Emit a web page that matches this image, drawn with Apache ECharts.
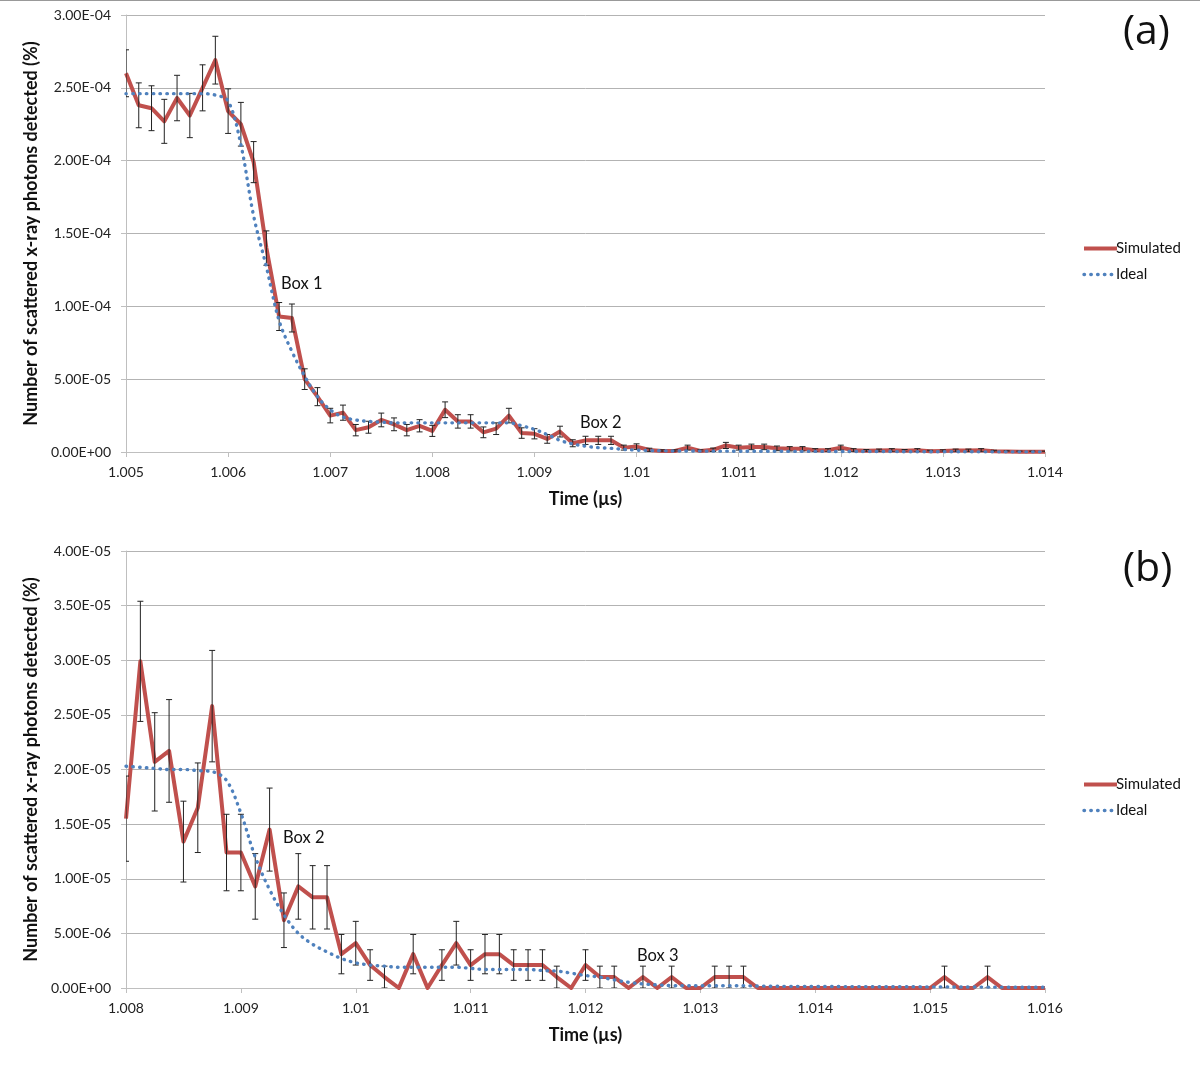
<!DOCTYPE html>
<html>
<head>
<meta charset="utf-8">
<script src="https://cdn.jsdelivr.net/npm/echarts@6/dist/echarts.min.js"></script>
<style>
html,body{margin:0;padding:0;background:#fff;}
#main{width:1200px;height:1066px;}
</style>
</head>
<body>
<div id="main"></div>
<script>
// ---------- Panel (a) ----------
const timeStartA = 1.005, timeStepA = 0.000125, nA = 73;
const simA = [2.60e-4, 2.38e-4, 2.36e-4, 2.27e-4, 2.43e-4, 2.31e-4, 2.50e-4, 2.69e-4, 2.34e-4, 2.25e-4,
  1.99e-4, 1.40e-4, 9.3e-5, 9.2e-5, 5.0e-5, 3.8e-5, 2.5e-5, 2.7e-5, 1.5e-5, 1.7e-5,
  2.2e-5, 1.9e-5, 1.5e-5, 1.8e-5, 1.45e-5, 2.9e-5, 2.1e-5, 2.1e-5, 1.35e-5, 1.6e-5,
  2.5e-5, 1.3e-5, 1.25e-5, 9.0e-6, 1.4e-5, 6.0e-6, 8.0e-6, 8.0e-6, 8.0e-6, 3.0e-6,
  3.7e-6, 1.4e-6, 7e-7, 7e-7, 3.0e-6, 7e-7, 1.5e-6, 4.5e-6, 3.0e-6, 3.5e-6,
  3.5e-6, 2.5e-6, 2.2e-6, 2.2e-6, 1.2e-6, 1.2e-6, 3.0e-6, 1.2e-6, 8e-7, 1.0e-6,
  1.2e-6, 8e-7, 1.2e-6, 5e-7, 7e-7, 1.0e-6, 1.0e-6, 1.2e-6, 5e-7, 3e-7,
  2e-7, 2e-7, 2e-7];
const errA = [1.61e-5, 1.54e-5, 1.54e-5, 1.51e-5, 1.56e-5, 1.52e-5, 1.58e-5, 1.64e-5, 1.53e-5, 1.50e-5,
  1.41e-5, 1.18e-5, 9.6e-6, 9.6e-6, 7.1e-6, 6.2e-6, 5.0e-6, 5.2e-6, 3.9e-6, 4.1e-6,
  4.7e-6, 4.4e-6, 3.9e-6, 4.2e-6, 3.8e-6, 5.4e-6, 4.6e-6, 4.6e-6, 3.7e-6, 4.0e-6,
  5.0e-6, 3.6e-6, 3.5e-6, 3.0e-6, 3.7e-6, 2.4e-6, 2.8e-6, 2.8e-6, 2.8e-6, 1.7e-6,
  1.9e-6, 1.2e-6, 8e-7, 8e-7, 1.7e-6, 8e-7, 1.2e-6, 2.1e-6, 1.7e-6, 1.9e-6,
  1.9e-6, 1.6e-6, 1.5e-6, 1.5e-6, 1.1e-6, 1.1e-6, 1.7e-6, 1.1e-6, 9e-7, 1.0e-6,
  1.1e-6, 9e-7, 1.1e-6, 7e-7, 8e-7, 1.0e-6, 1.0e-6, 1.1e-6, 7e-7, 5e-7,
  4e-7, 4e-7, 4e-7];
const idealA = [2.46e-4, 2.46e-4, 2.46e-4, 2.46e-4, 2.46e-4, 2.46e-4, 2.46e-4, 2.45e-4, 2.41e-4, 2.11e-4,
  1.62e-4, 1.27e-4, 9.0e-5, 6.9e-5, 5.2e-5, 3.8e-5, 2.9e-5, 2.4e-5, 2.2e-5, 2.1e-5,
  2.05e-5, 2.0e-5, 2.0e-5, 2.0e-5, 2.0e-5, 2.0e-5, 2.0e-5, 2.0e-5, 2.0e-5, 2.0e-5,
  2.0e-5, 1.8e-5, 1.55e-5, 1.2e-5, 8.0e-6, 5.5e-6, 4.0e-6, 3.0e-6, 2.5e-6, 1.8e-6,
  1.3e-6, 1.0e-6, 8e-7, 7e-7, 7e-7, 6e-7, 6e-7, 6e-7, 5e-7, 5e-7,
  5e-7, 5e-7, 4e-7, 4e-7, 4e-7, 4e-7, 3e-7, 3e-7, 3e-7, 3e-7,
  3e-7, 2e-7, 2e-7, 2e-7, 2e-7, 2e-7, 2e-7, 1e-7, 1e-7, 1e-7,
  1e-7, 1e-7, 1e-7];
const yTicksA = {min: 0, max: 3.0e-4, interval: 5.0e-5};
const xTicksA = {min: 1.005, max: 1.014, interval: 0.001};

// ---------- Panel (b) ----------
const timeStartB = 1.008, timeStepB = 0.000125, nB = 65;
const simB = [1.55e-5, 2.99e-5, 2.07e-5, 2.17e-5, 1.34e-5, 1.65e-5, 2.58e-5, 1.24e-5, 1.24e-5, 9.3e-6,
  1.45e-5, 6.2e-6, 9.3e-6, 8.3e-6, 8.3e-6, 3.1e-6, 4.1e-6, 2.1e-6, 1.0e-6, 0,
  3.1e-6, 0, 2.1e-6, 4.1e-6, 2.1e-6, 3.1e-6, 3.1e-6, 2.1e-6, 2.1e-6, 2.1e-6,
  1.0e-6, 0, 2.1e-6, 1.0e-6, 1.0e-6, 0, 1.0e-6, 0, 1.0e-6, 0,
  0, 1.0e-6, 1.0e-6, 1.0e-6, 0, 0, 0, 0, 0, 0,
  0, 0, 0, 0, 0, 0, 0, 1.0e-6, 0, 0,
  1.0e-6, 0, 0, 0, 0];
const errB = [3.9e-6, 5.5e-6, 4.5e-6, 4.7e-6, 3.7e-6, 4.1e-6, 5.1e-6, 3.5e-6, 3.5e-6, 3.0e-6,
  3.8e-6, 2.5e-6, 3.0e-6, 2.9e-6, 2.9e-6, 1.8e-6, 2.0e-6, 1.4e-6, 1.0e-6, 0,
  1.8e-6, 0, 1.4e-6, 2.0e-6, 1.4e-6, 1.8e-6, 1.8e-6, 1.4e-6, 1.4e-6, 1.4e-6,
  1.0e-6, 0, 1.4e-6, 1.0e-6, 1.0e-6, 0, 1.0e-6, 0, 1.0e-6, 0,
  0, 1.0e-6, 1.0e-6, 1.0e-6, 0, 0, 0, 0, 0, 0,
  0, 0, 0, 0, 0, 0, 0, 1.0e-6, 0, 0,
  1.0e-6, 0, 0, 0, 0];
const idealB = [2.03e-5, 2.02e-5, 2.01e-5, 2.00e-5, 2.00e-5, 1.99e-5, 1.98e-5, 1.90e-5, 1.60e-5, 1.20e-5,
  9.0e-6, 6.7e-6, 5.0e-6, 4.0e-6, 3.3e-6, 2.7e-6, 2.3e-6, 2.1e-6, 2.0e-6, 1.9e-6,
  1.9e-6, 1.9e-6, 1.9e-6, 1.9e-6, 1.8e-6, 1.7e-6, 1.7e-6, 1.7e-6, 1.7e-6, 1.6e-6,
  1.55e-6, 1.36e-6, 1.14e-6, 1.0e-6, 7.4e-7, 5.2e-7, 3.7e-7, 2.8e-7, 2.2e-7, 2.0e-7,
  2.0e-7, 2.0e-7, 2.0e-7, 2.0e-7, 1.8e-7, 1.6e-7, 1.5e-7, 1.5e-7, 1.4e-7, 1.4e-7,
  1.3e-7, 1.3e-7, 1.2e-7, 1.2e-7, 1.1e-7, 1.1e-7, 1.0e-7, 1.0e-7, 9e-8, 9e-8,
  8e-8, 8e-8, 7e-8, 7e-8, 6e-8];
const yTicksB = {min: 0, max: 4.0e-5, interval: 5.0e-6};
const xTicksB = {min: 1.008, max: 1.016, interval: 0.001};

const seriesNames = ['Simulated', 'Ideal'];
const yTitle = 'Number of scattered x-ray photons detected (%)';
const xTitle = 'Time (\u00b5s)';

// ---------- helpers ----------
function times(start, step, n) { const t = []; for (let i = 0; i < n; i++) t.push(+(start + i * step).toFixed(6)); return t; }
const tA = times(timeStartA, timeStepA, nA);
const tB = times(timeStartB, timeStepB, nB);
function fmtE(v) {
  if (Math.abs(v) < 1e-15) return '0.00E+00';
  const s = v.toExponential(2).split('e');
  let e = s[1]; const sign = e[0] === '-' ? '-' : '+';
  e = e.replace(/[+-]/, ''); if (e.length < 2) e = '0' + e;
  return s[0] + 'E' + sign + e;
}
function fmtX(v) { return String(parseFloat(v.toFixed(3))); }
const FONT = 'Lato, "Open Sans", sans-serif';
const RED = '#C0504D', BLUE = '#4F81BD';
const redLine = {color: RED, width: 4, join: 'round'};
const blueLine = {color: BLUE, width: 3.4, type: [0.5, 6.3], cap: 'round'};

function xAxis(ticks, gi) {
  return {
    type: 'value', gridIndex: gi, min: ticks.min, max: ticks.max, interval: ticks.interval,
    name: xTitle, nameLocation: 'middle', nameGap: 38,
    nameTextStyle: {fontFamily: FONT, fontWeight: 'bold', fontSize: 18, color: '#111'},
    axisLine: {lineStyle: {color: '#bfbfbf', width: 1}},
    axisTick: {show: true, length: 5, lineStyle: {color: '#bfbfbf'}},
    axisLabel: {formatter: fmtX, fontFamily: FONT, fontSize: 14, color: '#222', margin: 13},
    splitLine: {show: false}
  };
}
function yAxis(ticks, gi) {
  return {
    type: 'value', gridIndex: gi, min: ticks.min, max: ticks.max, interval: ticks.interval,
    name: yTitle, nameLocation: 'middle', nameGap: 81, nameRotate: 90,
    nameTextStyle: {fontFamily: FONT, fontWeight: 'bold', fontSize: 18, color: '#111'},
    axisLine: {show: true, lineStyle: {color: '#bfbfbf', width: 1}},
    axisTick: {show: true, length: 5, lineStyle: {color: '#bfbfbf'}},
    axisLabel: {formatter: fmtE, fontFamily: FONT, fontSize: 14, color: '#222', margin: 15},
    splitLine: {show: true, lineStyle: {color: '#b3b3b3', width: 1}}
  };
}
function errRender(params, api) {
  const x = api.value(0), y = api.value(1), e = api.value(2);
  if (!e) return;
  const top = api.coord([x, y + e]);
  const bot = api.coord([x, y - e]);
  const hw = 3;
  const st = {stroke: '#222', lineWidth: 1};
  return {type: 'group', children: [
    {type: 'line', shape: {x1: top[0], y1: top[1], x2: bot[0], y2: bot[1]}, style: st},
    {type: 'line', shape: {x1: top[0] - hw, y1: top[1], x2: top[0] + hw, y2: top[1]}, style: st},
    {type: 'line', shape: {x1: bot[0] - hw, y1: bot[1], x2: bot[0] + hw, y2: bot[1]}, style: st}
  ]};
}
function seriesFor(t, sim, err, ideal, gi) {
  return [
    {name: seriesNames[0], type: 'line', xAxisIndex: gi, yAxisIndex: gi, symbol: 'none',
     data: t.map((x, i) => [x, sim[i]]), lineStyle: redLine,
     itemStyle: {color: RED}, z: 2, animation: false},
    {name: 'err' + gi, type: 'custom', xAxisIndex: gi, yAxisIndex: gi, renderItem: errRender,
     data: t.map((x, i) => [x, sim[i], err[i]]), encode: {x: 0, y: 1}, z: 3, clip: true, animation: false},
    {name: seriesNames[1], type: 'line', xAxisIndex: gi, yAxisIndex: gi, symbol: 'none', smooth: 0.35,
     data: t.map((x, i) => [x, ideal[i]]), lineStyle: blueLine,
     itemStyle: {color: BLUE}, z: 4, animation: false}
  ];
}
function legendAt(top) {
  return {data: [
      {name: seriesNames[0], lineStyle: {width: 4}},
      {name: seriesNames[1], lineStyle: {width: 3.4, type: [0.5, 6.3], cap: 'round'}}
    ],
    orient: 'vertical', left: 1077, top: top, itemWidth: 33, itemHeight: 12, itemGap: 11,
    itemStyle: {opacity: 0},
    textStyle: {fontFamily: FONT, fontSize: 15, color: '#111', padding: [0, 0, 0, -6]}, selectedMode: false};
}

const chart = echarts.init(document.getElementById('main'), null, {renderer: 'canvas'});
chart.setOption({
  backgroundColor: '#fff',
  animation: false,
  grid: [
    {left: 126, top: 15, width: 919, height: 437, containLabel: false},
    {left: 126, top: 551, width: 919, height: 437, containLabel: false}
  ],
  xAxis: [xAxis(xTicksA, 0), xAxis(xTicksB, 1)],
  yAxis: [yAxis(yTicksA, 0), yAxis(yTicksB, 1)],
  legend: [legendAt(236), legendAt(772)],
  series: [].concat(seriesFor(tA, simA, errA, idealA, 0), seriesFor(tB, simB, errB, idealB, 1)),
  graphic: [
    {type: 'line', shape: {x1: 0, y1: 0.5, x2: 1200, y2: 0.5}, style: {stroke: '#999', lineWidth: 1}},
    {type: 'text', left: 1123, top: 12, style: {text: '(a)', fontFamily: '"Open Sans", sans-serif', fontSize: 41, fill: '#111'}},
    {type: 'text', left: 1123, top: 549, style: {text: '(b)', fontFamily: '"Open Sans", sans-serif', fontSize: 41, fill: '#111'}},
    {type: 'text', left: 281, top: 275, style: {text: 'Box 1', fontFamily: FONT, fontSize: 16.5, fill: '#111'}},
    {type: 'text', left: 580, top: 414, style: {text: 'Box 2', fontFamily: FONT, fontSize: 16.5, fill: '#111'}},
    {type: 'text', left: 283, top: 829, style: {text: 'Box 2', fontFamily: FONT, fontSize: 16.5, fill: '#111'}},
    {type: 'text', left: 637, top: 947, style: {text: 'Box 3', fontFamily: FONT, fontSize: 16.5, fill: '#111'}}
  ]
});
</script>
</body>
</html>
